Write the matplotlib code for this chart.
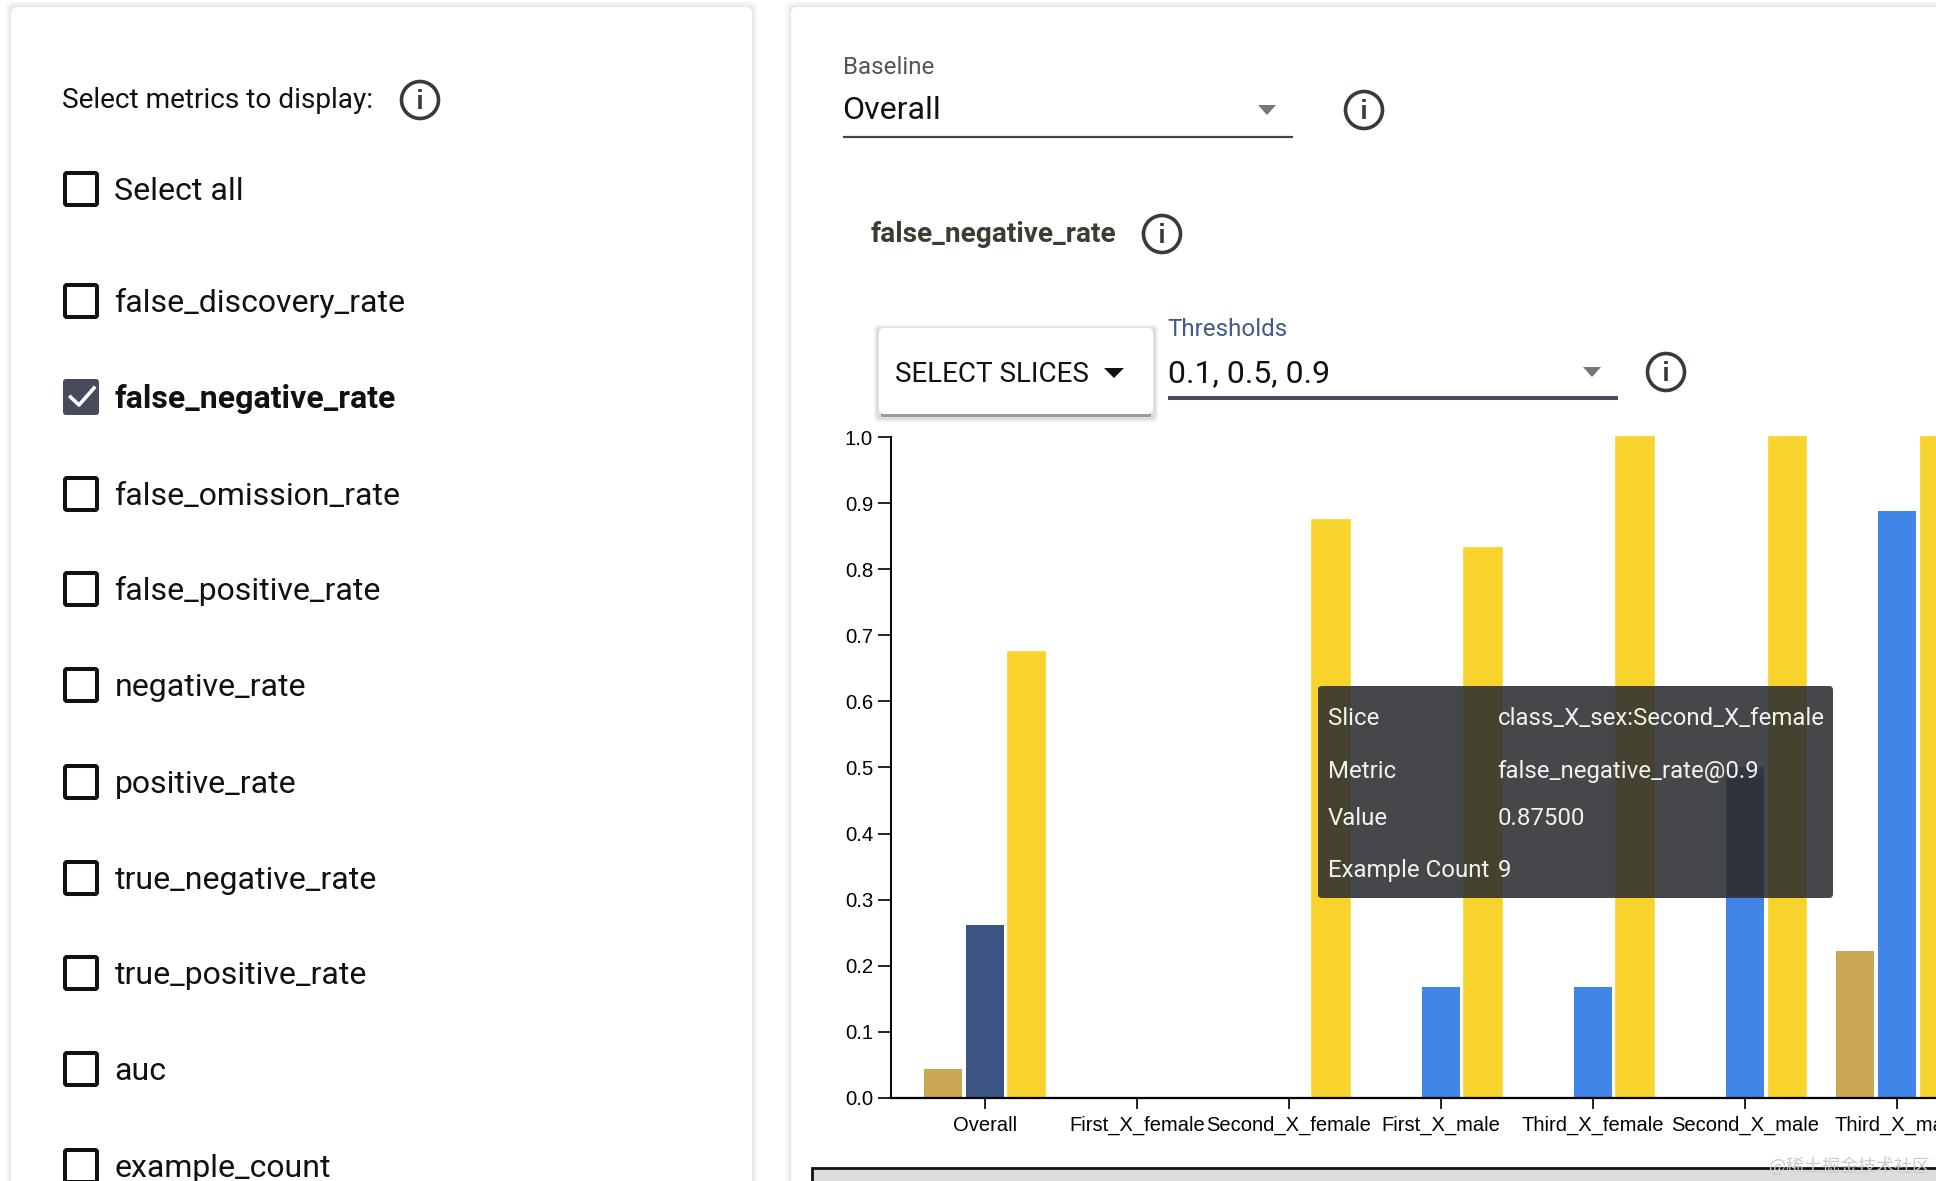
import numpy as np
import matplotlib
matplotlib.use("Agg")
import matplotlib.pyplot as plt
from matplotlib.patches import Circle, FancyBboxPatch, Polygon, Rectangle

slices = ["Overall", "First_X_female", "Second_X_female", "First_X_male",
          "Third_X_female", "Second_X_male", "Third_X_male"]
values_01 = [0.044, 0, 0, 0, 0, 0, 0.222]
values_05 = [0.261, 0, 0, 0.167, 0.167, 0.5, 0.889]
values_09 = [0.675, 0, 0.875, 0.833, 1.0, 1.0, 1.0]
colors_05 = ["#3B5484", "#4285E8", "#4285E8", "#4285E8", "#4285E8", "#4285E8", "#4285E8"]
y_ticks = [0.0, 0.1, 0.2, 0.3, 0.4, 0.5, 0.6, 0.7, 0.8, 0.9, 1.0]

metrics = ["false_discovery_rate", "false_negative_rate", "false_omission_rate",
           "false_positive_rate", "negative_rate", "positive_rate",
           "true_negative_rate", "true_positive_rate", "auc", "example_count"]
metric_y = [301, 397, 494, 589, 685, 782, 878, 973, 1069, 1166]
tooltip_rows = [("Slice", "class_X_sex:Second_X_female"),
                ("Metric", "false_negative_rate@0.9"),
                ("Value", "0.87500"),
                ("Example Count", "9")]
tooltip_y = [725, 778, 825, 877]

W, H = 1936, 1181
plt.rcParams['font.family'] = ['Roboto', 'DejaVu Sans']
fig = plt.figure(figsize=(W / 100, H / 100), dpi=100, facecolor='white')

# background cards, in pixels
bg = fig.add_axes([0, 0, 1, 1], zorder=0)
bg.set_xlim(0, W)
bg.set_ylim(H, 0)
bg.axis('off')
for off, col in [(5, '#f6f6f6'), (3, '#efefef'), (1, '#e4e4e4')]:
    bg.add_patch(FancyBboxPatch((11 - off, 7 - off), 741 + 2 * off, 1300, boxstyle="round,pad=0,rounding_size=6",
                                fc=col, ec='none'))
    bg.add_patch(FancyBboxPatch((791 - off, 7 - off), 1300, 1300, boxstyle="round,pad=0,rounding_size=6",
                                fc=col, ec='none'))
bg.add_patch(FancyBboxPatch((11, 7), 741, 1300, boxstyle="round,pad=0,rounding_size=6", fc='white', ec='none'))
bg.add_patch(FancyBboxPatch((791, 7), 1300, 1300, boxstyle="round,pad=0,rounding_size=6", fc='white', ec='none'))

# the chart
x0 = 984.7
step = 152.1
ax = fig.add_axes([891 / W, 1 - 1097.6 / H, (W - 891) / W, 660.2 / H], zorder=1)
ax.patch.set_alpha(0)
x = np.arange(len(slices))
ax.bar(x - 0.276, values_01, 0.25, color='#CBA853')
ax.bar(x, values_05, 0.25, color=colors_05)
ax.bar(x + 0.276, values_09, 0.245, color='#F7D32B', edgecolor='#F7D32B', linewidth=1.2)
ax.set_xlim((891 - x0) / step, (W - x0) / step)
ax.set_ylim(0, 1)
ax.set_xticks(x)
ax.set_xticklabels(slices, family='Liberation Sans', fontsize=14.5)
ax.set_yticks(y_ticks)
ax.set_yticklabels(["%.1f" % t for t in y_ticks], family='Liberation Sans', fontsize=14.7)
ax.tick_params(axis='y', length=9.4, width=1.2, pad=3.5)
ax.tick_params(axis='x', length=7.9, width=1.2, pad=5.3)
ax.spines['top'].set_visible(False)
ax.spines['right'].set_visible(False)
ax.spines['left'].set_linewidth(1.4)
ax.spines['bottom'].set_linewidth(1.6)
for b in ax.patches:
    b.set_clip_on(False)

# everything else of the page, in pixels
ui = fig.add_axes([0, 0, 1, 1], zorder=2)
ui.set_xlim(0, W)
ui.set_ylim(H, 0)
ui.axis('off')


def info(cx, cy):
    ui.add_patch(Circle((cx, cy), 18.5, fc='none', ec='#3b3b33', lw=2.6))
    ui.plot([cx, cx], [cy - 5, cy + 9], color='#3b3b33', lw=2.6, solid_capstyle='butt')
    ui.plot([cx, cx], [cy - 11, cy - 8], color='#3b3b33', lw=2.6, solid_capstyle='butt')


def checkbox(cy, checked=False):
    if checked:
        ui.add_patch(FancyBboxPatch((63, cy - 18), 36, 36, boxstyle="round,pad=0,rounding_size=3",
                                    fc='#474b5c', ec='none'))
        ui.plot([70.5, 79, 94], [cy, cy + 8, cy - 9], color='white', lw=2.6)
    else:
        ui.add_patch(FancyBboxPatch((65, cy - 16), 32, 32, boxstyle="round,pad=0,rounding_size=2",
                                    fc='white', ec='#111111', lw=2.9))


def arrow(cx, cy, col, hw=9, h=10):
    ui.add_patch(Polygon([(cx - hw, cy - h / 2), (cx + hw, cy - h / 2), (cx, cy + h / 2)], fc=col, ec='none'))


ui.text(62, 108, "Select metrics to display:", fontsize=20.2, color='#111111')
info(420, 100)
checkbox(189)
ui.text(114.5, 200, "Select all", fontsize=23.1, color='#111111')
for m, my in zip(metrics, metric_y):
    sel = m == "false_negative_rate"
    checkbox(my, sel)
    ui.text(114.5, my + 11, m, fontsize=23 if sel else 23, color='#111111', fontweight='bold' if sel else 'normal')

ui.text(843, 74, "Baseline", fontsize=17.4, color='#555555')
ui.text(842.5, 119, "Overall", fontsize=23.1, color='#111111')
arrow(1267, 110, '#777777')
ui.plot([843, 1293], [137, 137], color='#444444', lw=1.6, solid_capstyle='butt')
info(1364, 110)

ui.text(871, 242, "false_negative_rate", fontsize=20.2, fontweight='bold', color='#3c3c30')
info(1162, 234)

# select slices button with its shadow
for off, col in [(5, '#f0f0f0'), (3, '#dddddd')]:
    ui.add_patch(FancyBboxPatch((879 - off, 328 - off + 2), 274 + 2 * off, 87 + 2 * off, boxstyle="round,pad=0,rounding_size=5",
                                fc=col, ec='none'))
ui.add_patch(Rectangle((881, 412), 270, 5, fc='#9a9a9a', ec='none'))
ui.add_patch(FancyBboxPatch((879, 328), 274, 86, boxstyle="round,pad=0,rounding_size=5", fc='white', ec='none'))
ui.text(895, 382, "SELECT SLICES", fontsize=20, color='#111111')
arrow(1114, 373, '#111111', hw=10, h=10)

ui.text(1167, 336, "Thresholds", fontsize=17.4, color='#3f5a8a')
ui.text(1168, 382, "0.1, 0.5, 0.9", fontsize=23, color='#111111')
arrow(1592, 372, '#777777')
ui.plot([1168, 1618], [398, 398], color='#4a4e5c', lw=2.9, solid_capstyle='butt')
info(1666, 372)

# tooltip over the bars
ui.add_patch(FancyBboxPatch((1318, 686), 515, 212, boxstyle="round,pad=0,rounding_size=4",
                            fc='#2b2d31', ec='none', alpha=0.873))
ui.add_patch(Rectangle((1728, 778), 35, 118, fc='#2f3238', ec='none'))
for (k, v), ty in zip(tooltip_rows, tooltip_y):
    ui.text(1328, ty, k, fontsize=17.3, color='#f2f2ec')
    ui.text(1497.5, ty, v, fontsize=17.3, color='#f2f2ec')

# grey box at the bottom and the site mark
ui.add_patch(Rectangle((812, 1168), 1200, 40, fc='#dcdcdc', ec='#111111', lw=2))
ui.text(1930, 1172, "@稀土掘金技术社区", fontsize=13, color='#cccccc', ha='right',
        family=['Noto Sans CJK SC', 'DejaVu Sans'])

fig.savefig("out.png", dpi=100)
